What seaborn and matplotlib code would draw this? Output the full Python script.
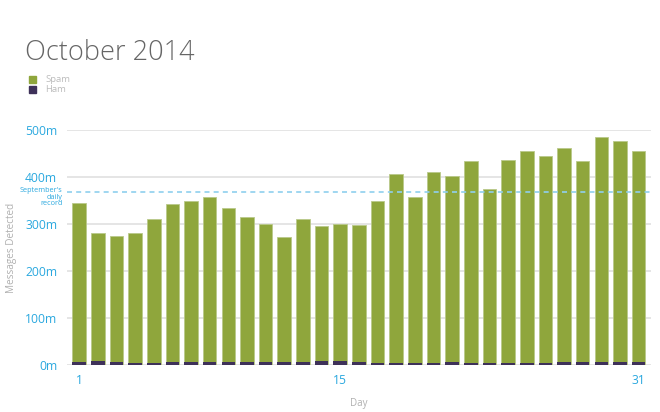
import matplotlib
matplotlib.use('Agg')
import matplotlib.pyplot as plt
import matplotlib.transforms as mtransforms
from matplotlib.patches import Rectangle
import pandas as pd
import seaborn as sns

# Daily totals (millions)
days = list(range(1, 32))
total = [345, 281, 275, 281, 310, 343, 348, 358, 334, 314, 300, 273, 310, 295, 300,
         297, 349, 406, 358, 411, 401, 434, 374, 435, 455, 444, 461, 434, 484, 476, 455]
ham = [7, 9, 7, 5, 5, 7, 7, 7, 7, 7, 7, 7, 7, 9, 9,
       7, 6, 6, 6, 6, 7, 6, 6, 6, 5, 6, 7, 8, 8, 7, 7]
spam = [t - h for t, h in zip(total, ham)]
september_record = 368
yticks = [0, 100, 200, 300, 400, 500]
xtick_days = [1, 15, 31]

spam_color = '#8fa63c'
ham_color = '#3e3159'
blue = '#2aa8df'
grey = '#b0b0b0'

df = pd.DataFrame({'day': days, 'spam': spam, 'ham': ham})
df['total'] = df['spam'] + df['ham']

sns.set_theme(style='white')
plt.rcParams['font.family'] = ['Open Sans', 'DejaVu Sans']

fig = plt.figure(figsize=(6.6, 4.12), dpi=100)
ax = fig.add_axes([0.1015, 0.1129, 0.8845, 0.5721])

# grid lines behind bars
for y in yticks:
    ax.axhline(y, color='#e3e3e3', lw=1.3, zorder=0)

sns.barplot(data=df, x='day', y='total', color=spam_color, width=0.73,
            saturation=1, edgecolor='#b9c98a', linewidth=0.6, ax=ax, zorder=2)
sns.barplot(data=df, x='day', y='ham', color=ham_color, width=0.73,
            saturation=1, linewidth=0, ax=ax, zorder=3)

ax.axhline(september_record, color='#8fd0ee', lw=1.2, ls=(0, (3, 2.5)), zorder=4)
trans = mtransforms.blended_transform_factory(ax.transAxes, ax.transData)
ax.text(-0.008, september_record + 11, "September's\ndaily\nrecord", transform=trans,
        ha='right', va='top', fontsize=5.2, color=blue, linespacing=0.95)

ax.set_ylim(0, 500)
ax.set_xlim(-0.65, 30.65)
ax.set_yticks(yticks)
ax.set_yticklabels([f'{v}m' for v in yticks])
ax.set_xticks([d - 1 for d in xtick_days])
ax.set_xticklabels([str(d) for d in xtick_days])
ax.tick_params(axis='both', length=0, labelsize=8.7, labelcolor=blue)
ax.tick_params(axis='y', pad=7)
ax.tick_params(axis='x', pad=6)
ax.set_xlabel('Day', fontsize=7, color=grey, labelpad=8)
ax.set_ylabel('')
fig.text(12 / 660, 1 - 248 / 412, 'Messages Detected', rotation=90, fontsize=7.2,
         color=grey, ha='center', va='center')
for s in ax.spines.values():
    s.set_visible(False)

# title and legend
fig.text(0.038, 0.872, 'October 2014', fontsize=19.5, fontweight='light', color='#666666',
         ha='left', va='center')
for i, (lab, col) in enumerate([('Spam', spam_color), ('Ham', ham_color)]):
    yy = 1 - (79 + 10 * i) / 412
    fig.patches.append(Rectangle((29 / 660, yy - 3.5 / 412), 7 / 660, 7 / 412,
                                 transform=fig.transFigure, color=col, figure=fig))
    fig.text(45 / 660, yy, lab, fontsize=6.8, color='#bcbcbc', ha='left', va='center')

fig.savefig('out.png', dpi=100)
